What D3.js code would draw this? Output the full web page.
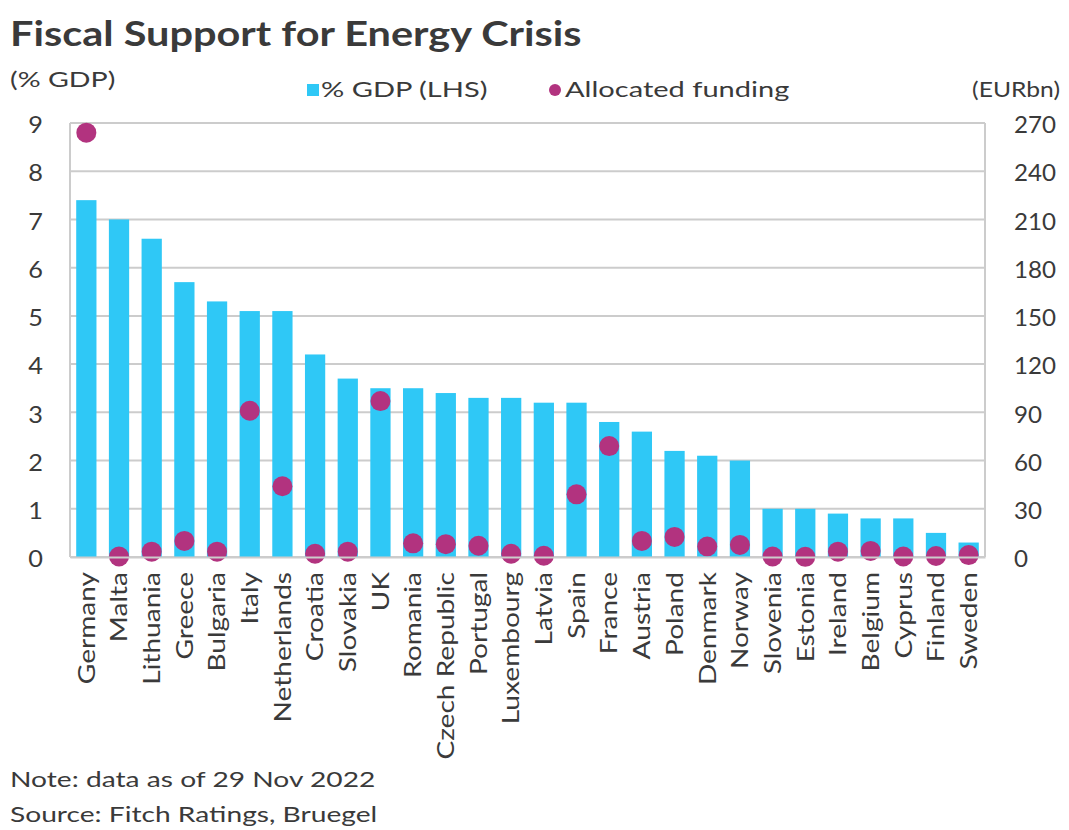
<!DOCTYPE html>
<html><head><meta charset="utf-8">
<script src="https://cdn.jsdelivr.net/npm/d3@7"></script>
<style>
body{margin:0;background:#fff;}
svg text{font-family:Lato,"Open Sans",sans-serif;fill:#3a3a3a;}
</style></head>
<body><svg id="c" width="1069" height="830"></svg>
<script>
const countries=["Germany","Malta","Lithuania","Greece","Bulgaria","Italy","Netherlands","Croatia","Slovakia","UK","Romania","Czech Republic","Portugal","Luxembourg","Latvia","Spain","France","Austria","Poland","Denmark","Norway","Slovenia","Estonia","Ireland","Belgium","Cyprus","Finland","Sweden"];
const gdpShare=[7.4,7.0,6.6,5.7,5.3,5.1,5.1,4.2,3.7,3.5,3.5,3.4,3.3,3.3,3.2,3.2,2.8,2.6,2.2,2.1,2.0,1.0,1.0,0.9,0.8,0.8,0.5,0.3];
const funding=[264,0.3,3.3,10,3.3,91,44,2,3.3,97,8.5,8,7,2,0.8,39,69,10,12.5,6.5,7.5,0.3,0.1,3.3,3.8,0.3,0.6,1.2];
const leftTicks=[0,1,2,3,4,5,6,7,8,9];
const rightTicks=[0,30,60,90,120,150,180,210,240,270];

const svg=d3.select("#c");
const L=70,R=985,T=123,B=557;
const x=d3.scaleBand().domain(countries).range([L,R]).paddingInner(0.38).paddingOuter(0.19);
const yL=d3.scaleLinear().domain([0,9]).range([B,T]);
const yR=d3.scaleLinear().domain([0,270]).range([B,T]);

function stretch(sel,f){
  sel.each(function(){
    const w=this.getComputedTextLength();
    d3.select(this).attr("textLength",w*f).attr("lengthAdjust","spacingAndGlyphs");
  });
}

// gridlines
svg.append("g").selectAll("line").data(leftTicks).join("line")
 .attr("x1",L).attr("x2",R).attr("y1",d=>yL(d)).attr("y2",d=>yL(d))
 .attr("stroke","#cccccc").attr("stroke-width",2);
svg.append("line").attr("x1",L).attr("x2",L).attr("y1",T).attr("y2",B).attr("stroke","#cccccc").attr("stroke-width",2);
svg.append("line").attr("x1",R).attr("x2",R).attr("y1",T).attr("y2",B).attr("stroke","#cccccc").attr("stroke-width",2);

// bars
svg.append("g").selectAll("rect").data(countries).join("rect")
 .attr("x",d=>x(d)).attr("width",x.bandwidth())
 .attr("y",(d,i)=>yL(gdpShare[i])).attr("height",(d,i)=>B-yL(gdpShare[i]))
 .attr("fill","#2fc8f6");

// dots
svg.append("g").selectAll("circle").data(countries).join("circle")
 .attr("cx",d=>x(d)+x.bandwidth()/2).attr("cy",(d,i)=>yR(funding[i]))
 .attr("r",10).attr("fill","#b2337f");

// left axis
const la=svg.append("g").attr("transform",`translate(${L},0)`)
 .call(d3.axisLeft(yL).tickValues(leftTicks).tickSize(0).tickPadding(27));
la.select(".domain").remove();
la.selectAll("text").attr("font-size",23).style("font-family","Lato").attr("fill","#3a3a3a").attr("dy","0.42em").call(stretch,1.1);
// right axis
const ra=svg.append("g").attr("transform",`translate(${R},0)`)
 .call(d3.axisRight(yR).tickValues(rightTicks).tickSize(0).tickPadding(29));
ra.select(".domain").remove();
ra.selectAll("text").attr("font-size",23).style("font-family","Lato").attr("fill","#3a3a3a").attr("dy","0.42em").call(stretch,1.05);

// bottom axis
const ba=svg.append("g").attr("transform",`translate(0,${B})`)
 .call(d3.axisBottom(x).tickSize(0));
ba.select(".domain").attr("stroke","#cccccc").attr("stroke-width",2);
ba.selectAll("text").attr("font-size",23).style("font-family","Lato").attr("fill","#3a3a3a")
 .attr("text-anchor","end").attr("transform","rotate(-90)")
 .attr("x",-15).attr("y",0).attr("dy","0.36em").call(stretch,1.22);

// title & labels
svg.append("text").attr("x",10).attr("y",46).attr("font-size",34).attr("font-weight","bold").attr("fill","#333").text("Fiscal Support for Energy Crisis").call(stretch,1.22);
svg.append("text").attr("x",10).attr("y",87).attr("font-size",22).text("(% GDP)").call(stretch,1.3);
svg.append("text").attr("x",1060).attr("y",97).attr("font-size",22).attr("text-anchor","end").text("(EURbn)").call(stretch,1.12);
// legend
svg.append("rect").attr("x",307).attr("y",84).attr("width",12).attr("height",12).attr("fill","#2fc8f6");
svg.append("text").attr("x",321).attr("y",97).attr("font-size",22).text("% GDP (LHS)").call(stretch,1.32);
svg.append("circle").attr("cx",555).attr("cy",90).attr("r",6).attr("fill","#b2337f");
svg.append("text").attr("x",565).attr("y",97).attr("font-size",22).text("Allocated funding").call(stretch,1.32);
// notes
svg.append("text").attr("x",10).attr("y",787).attr("font-size",22).text("Note: data as of 29 Nov 2022").call(stretch,1.28);
svg.append("text").attr("x",10).attr("y",822).attr("font-size",22).text("Source: Fitch Ratings, Bruegel").call(stretch,1.28);
</script></body></html>
